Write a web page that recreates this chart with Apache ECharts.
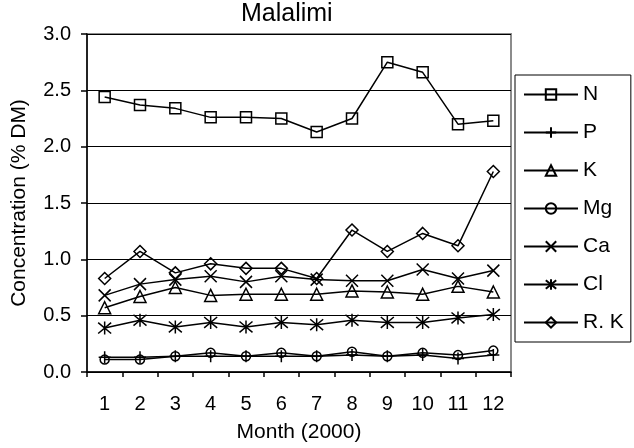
<!DOCTYPE html>
<html>
<head>
<meta charset="utf-8">
<script src="https://cdn.jsdelivr.net/npm/echarts@6/dist/echarts.min.js"></script>
<style>
  html, body { margin: 0; padding: 0; background: #fff; }
  #chart { width: 634px; height: 448px; }
</style>
</head>
<body>
<div id="chart"></div>
<script>
// Monthly nutrient concentrations, Malalimi, 2000
const months = ['1', '2', '3', '4', '5', '6', '7', '8', '9', '10', '11', '12'];
const seriesNames = ['N', 'P', 'K', 'Mg', 'Ca', 'Cl', 'R. K'];
const nValues  = [2.44, 2.37, 2.34, 2.26, 2.26, 2.25, 2.13, 2.25, 2.75, 2.66, 2.20, 2.23];
const pValues  = [0.13, 0.13, 0.14, 0.14, 0.14, 0.14, 0.14, 0.15, 0.14, 0.15, 0.12, 0.15];
const kValues  = [0.57, 0.67, 0.75, 0.68, 0.69, 0.69, 0.69, 0.72, 0.71, 0.69, 0.76, 0.71];
const mgValues = [0.11, 0.11, 0.14, 0.17, 0.14, 0.17, 0.14, 0.18, 0.14, 0.17, 0.15, 0.19];
const caValues = [0.68, 0.78, 0.82, 0.85, 0.80, 0.85, 0.82, 0.81, 0.81, 0.91, 0.83, 0.90];
const clValues = [0.39, 0.46, 0.40, 0.44, 0.40, 0.44, 0.42, 0.46, 0.44, 0.44, 0.48, 0.51];
const rkValues = [0.83, 1.07, 0.88, 0.96, 0.92, 0.92, 0.83, 1.26, 1.07, 1.23, 1.12, 1.78];
const yTicks = { min: 0, max: 3, interval: 0.5 };

const FONT = '"Liberation Sans", Arial, sans-serif';

// Marker shapes: open outlines and stroke-only glyphs
const markers = [
  { symbol: 'rect', size: 11, fill: 'transparent' },
  { symbol: 'path://M5,0L5,10M0,5L10,5', size: 12, fill: 'none' },
  { symbol: 'triangle', size: 12, fill: 'transparent' },
  { symbol: 'circle', size: 9, fill: 'transparent' },
  { symbol: 'path://M0,0L10,10M10,0L0,10', size: 12, fill: 'none' },
  { symbol: 'path://M0,1L10,11M10,1L0,11M5,0L5,12', size: 13, fill: 'none' },
  { symbol: 'diamond', size: 12, fill: 'transparent' }
];
const values = [nValues, pValues, kValues, mgValues, caValues, clValues, rkValues];

const series = seriesNames.map((name, i) => ({
  name: name,
  type: 'line',
  data: values[i],
  symbol: markers[i].symbol,
  symbolSize: markers[i].size,
  showAllSymbol: true,
  lineStyle: { color: '#000', width: 1.5 },
  itemStyle: { color: markers[i].fill, borderColor: '#000', borderWidth: 1.5 },
  emphasis: { disabled: true },
  animation: false
}));

const chart = echarts.init(document.getElementById('chart'), null, { renderer: 'canvas' });
chart.setOption({
  backgroundColor: '#fff',
  animation: false,
  title: {
    text: 'Malalimi',
    left: 236,
    top: -3,
    textStyle: { fontFamily: FONT, fontSize: 25, fontWeight: 'normal', color: '#000' }
  },
  legend: {
    orient: 'vertical',
    left: 515,
    top: 75,
    padding: [9, 7, 9, 8],
    borderColor: '#000',
    borderWidth: 1,
    itemWidth: 54,
    itemHeight: 13,
    itemGap: 17,
    data: seriesNames,
    textStyle: { fontFamily: FONT, fontSize: 21, color: '#000', lineHeight: 21 }
  },
  grid: {
    left: 87,
    right: 123,
    top: 34,
    bottom: 76,
    show: true,
    borderColor: '#8c8c8c',
    borderWidth: 2
  },
  xAxis: {
    type: 'category',
    data: months,
    boundaryGap: true,
    name: 'Month (2000)',
    nameLocation: 'middle',
    nameGap: 50,
    nameTextStyle: { fontFamily: FONT, fontSize: 21, color: '#000' },
    axisLine: { lineStyle: { color: '#000', width: 1.5 } },
    axisTick: { show: true, length: 5, lineStyle: { color: '#000', width: 1.5 } },
    axisLabel: { fontFamily: FONT, fontSize: 20, color: '#000', margin: 22 },
    splitLine: { show: false }
  },
  yAxis: {
    type: 'value',
    min: yTicks.min,
    max: yTicks.max,
    interval: yTicks.interval,
    name: 'Concentration (% DM)',
    nameLocation: 'middle',
    nameGap: 57,
    nameTextStyle: { fontFamily: FONT, fontSize: 21, color: '#000' },
    axisLine: { show: true, lineStyle: { color: '#000', width: 1.5 } },
    axisTick: { show: true, length: 6, lineStyle: { color: '#000', width: 1.5 } },
    axisLabel: {
      fontFamily: FONT, fontSize: 20, color: '#000', margin: 16,
      formatter: v => v.toFixed(1)
    },
    splitLine: { show: true, lineStyle: { color: '#000', width: 1.2 } }
  },
  series: series
});
</script>
</body>
</html>
